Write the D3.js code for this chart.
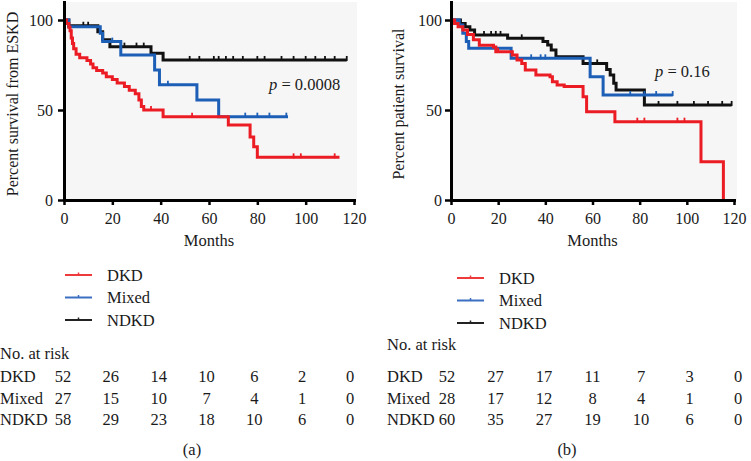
<!DOCTYPE html>
<html>
<head>
<meta charset="utf-8">
<script src="https://cdn.jsdelivr.net/npm/d3@7"></script>
<style>
body { margin: 0; background: #fff; }
text { font-family: "Liberation Serif", "DejaVu Serif", serif; fill: #1a1a1a; }
</style>
</head>
<body>
<div id="chart"></div>
<script>
var monthTicks = [0, 20, 40, 60, 80, 100, 120];
var percentTicks = [0, 50, 100];
var groupNames = ["DKD", "Mixed", "NDKD"];

// (a) percent survival from ESKD, [month, percent] at each step
var eskdDkd = [[0, 100], [1, 98], [2, 96], [2.5, 94], [3, 90], [3.5, 87], [4, 84], [5, 81],
    [6.5, 79], [9.5, 77.5], [11, 75.5], [12, 73.5], [13.5, 72], [16, 70.5], [17.5, 68.5],
    [20, 67], [22, 65], [25, 63], [27, 61], [29.5, 59], [31, 55.5], [32, 52], [33, 50],
    [41, 46.3], [68, 41.7], [77, 35], [78.5, 29.6], [80, 23.7], [114, 23.7]];
var eskdMixed = [[0, 100], [2, 96.3], [15, 92.6], [16, 88], [23.5, 80.5], [37.5, 72.2],
    [39.5, 64], [55, 55.6], [64, 46.3], [92.7, 46.3]];
var eskdNdkd = [[0, 100], [2, 96.8], [14, 93.5], [16, 89], [19, 85.2], [36, 81.5],
    [41, 77.8], [117, 77.8]];
var eskdCensorDkd = [36, 53, 95, 98, 112];
var eskdCensorMixed = [20, 43, 75, 80, 85, 92];
var eskdCensorNdkd = [8, 10, 25, 30, 33, 52, 56, 62, 64, 67, 70, 74, 80, 83, 90, 95, 100, 104, 108, 112, 117];
var eskdRiskDkd = [52, 26, 14, 10, 6, 2, 0];
var eskdRiskMixed = [27, 15, 10, 7, 4, 1, 0];
var eskdRiskNdkd = [58, 29, 23, 18, 10, 6, 0];

// (b) percent patient survival
var patientDkd = [[0, 100], [1.5, 98], [3, 96.3], [5, 94.4], [7, 92], [9.5, 89], [12, 86],
    [18, 85], [19, 82.4], [26, 80.5], [28, 77.8], [30, 75.9], [31.5, 72.2], [36, 69.4],
    [42, 68.5], [43, 65.7], [45, 63.9], [48, 63], [56, 57.4], [57.5, 49], [69.5, 43.5],
    [106, 21.3], [115.5, 0]];
var patientMixed = [[0, 100], [3.5, 97.2], [5, 92.6], [6.5, 88], [7.5, 84.3], [25.5, 78.7],
    [59, 68.5], [64.5, 58.3], [94, 58.3]];
var patientNdkd = [[0, 100], [4, 98], [6, 96.3], [8, 94.4], [10, 91.7], [24, 89.8], [39, 88],
    [41, 86.1], [42.5, 83.3], [44.5, 79.6], [56, 75.9], [66, 72.5], [67.5, 69.4], [69, 64.8],
    [70, 61.1], [82, 52.8], [119, 52.8]];
var patientCensorDkd = [20, 79, 82, 96, 99];
var patientCensorMixed = [34, 38, 40, 76, 82, 87, 94];
var patientCensorNdkd = [14, 17, 19, 21, 30, 62, 88, 96, 103, 109, 115, 119];
var patientRiskDkd = [52, 27, 17, 11, 7, 3, 0];
var patientRiskMixed = [28, 17, 12, 8, 4, 1, 0];
var patientRiskNdkd = [60, 35, 27, 19, 10, 6, 0];

var groupColors = ["#ec1c24", "#1d5fb6", "#111111"];
var legendColors = ["#ee3a3a", "#3b6fc2", "#222222"];

function valueAt(steps, t) {
    var v = steps[0][1];
    steps.forEach(function (s) {
        if (s[0] <= t) { v = s[1]; }
    });
    return v;
}

class SurvivalPanel {
    constructor(svg, frame, series, risk, texts) {
        this.svg = svg;
        this.frame = frame;
        this.series = series;
        this.risk = risk;
        this.texts = texts;
        this.x = d3.scaleLinear().domain([0, 120]).range([frame.left, frame.right]);
        this.y = d3.scaleLinear().domain([0, 110]).range([200, 2]);
    }

    addBackground() {
        this.svg.append("rect")
            .attr("x", this.x(0))
            .attr("y", this.y(110))
            .attr("width", this.x(120) - this.x(0) + 3)
            .attr("height", this.y(0) - this.y(110))
            .attr("fill", "#f6f6f6");
    }

    addAxes() {
        var xAxis = d3.axisBottom(this.x).tickValues(monthTicks)
            .tickSize(5).tickSizeOuter(0).tickPadding(8);
        var yAxis = d3.axisLeft(this.y).tickValues(percentTicks)
            .tickSize(6).tickSizeOuter(0).tickPadding(this.frame.yPad);

        var gx = this.svg.append("g")
            .attr("transform", "translate(0," + this.y(0) + ")")
            .call(xAxis);
        var gy = this.svg.append("g")
            .attr("transform", "translate(" + this.x(0) + ",0)")
            .call(yAxis);

        [gx, gy].forEach(function (g) {
            g.select(".domain").attr("stroke", "#000").attr("stroke-width", 3)
                .attr("stroke-linecap", "square");
            g.selectAll(".tick line").attr("stroke", "#000").attr("stroke-width", 2.5);
            g.selectAll(".tick text").attr("font-size", 16).attr("fill", "#1a1a1a")
                .style("font-family", "'Liberation Serif', serif");
        });

        this.svg.append("text")
            .attr("transform", "translate(" + this.frame.titleX + ",104) rotate(-90)")
            .attr("text-anchor", "middle")
            .attr("font-size", 16)
            .text(this.texts.yTitle);

        this.svg.append("text")
            .attr("x", this.x(60))
            .attr("y", 246)
            .attr("text-anchor", "middle")
            .attr("font-size", 16.5)
            .text("Months");
    }

    addCurves() {
        var x = this.x, y = this.y;
        var line = d3.line()
            .x(function (d) { return x(d[0]); })
            .y(function (d) { return y(d[1]); })
            .curve(d3.curveStepAfter);

        // black drawn first so red and blue stay on top, as in the figure
        var order = [2, 1, 0];
        var svg = this.svg;
        var series = this.series;

        order.forEach(function (i) {
            var s = series[i];
            svg.append("path")
                .datum(s.steps)
                .attr("fill", "none")
                .attr("stroke", groupColors[i])
                .attr("stroke-width", 3)
                .attr("d", line);

            svg.append("g").selectAll("line")
                .data(s.censor)
                .enter().append("line")
                .attr("x1", function (t) { return x(t); })
                .attr("x2", function (t) { return x(t); })
                .attr("y1", function (t) { return y(valueAt(s.steps, t)) - 4; })
                .attr("y2", function (t) { return y(valueAt(s.steps, t)) + 1; })
                .attr("stroke", groupColors[i])
                .attr("stroke-width", 1.8);
        });
    }

    addPValue() {
        var t = this.svg.append("text")
            .attr("x", this.texts.pX)
            .attr("y", this.texts.pY)
            .attr("font-size", 16.5);
        t.append("tspan").attr("font-style", "italic").text("p");
        t.append("tspan").text(" = " + this.texts.pValue);
    }

    addLegend() {
        var lg = this.frame.legend;
        var g = this.svg.append("g");
        groupNames.forEach(function (name, i) {
            var yy = lg.y + i * 22.5;
            g.append("line")
                .attr("x1", lg.x).attr("x2", lg.x + 27)
                .attr("y1", yy).attr("y2", yy)
                .attr("stroke", legendColors[i]).attr("stroke-width", 2);
            g.append("line")
                .attr("x1", lg.x + 13.5).attr("x2", lg.x + 13.5)
                .attr("y1", yy - 2.5).attr("y2", yy)
                .attr("stroke", legendColors[i]).attr("stroke-width", 1.5);
            g.append("text")
                .attr("x", lg.x + 42)
                .attr("y", yy + 5.5)
                .attr("font-size", 16.5)
                .text(name);
        });
    }

    addRiskTable() {
        var tb = this.frame.table;
        var col = d3.scaleLinear().domain([0, 120]).range([tb.first, tb.last]);
        var g = this.svg.append("g").attr("font-size", 16.5);
        var rows = this.risk;

        g.append("text").attr("x", tb.x).attr("y", tb.headY).text("No. at risk");

        groupNames.forEach(function (name, i) {
            var yy = tb.rowY + i * 21.5;
            g.append("text").attr("x", tb.x).attr("y", yy).text(name);
            g.selectAll(null)
                .data(rows[i])
                .enter().append("text")
                .attr("x", function (d, j) { return col(monthTicks[j]); })
                .attr("y", yy)
                .attr("text-anchor", "middle")
                .text(function (d) { return d; });
        });

        g.append("text")
            .attr("x", tb.captionX)
            .attr("y", 455)
            .attr("text-anchor", "middle")
            .text(this.texts.caption);
    }

    draw() {
        this.addBackground();
        this.addCurves();
        this.addAxes();
        this.addPValue();
        this.addLegend();
        this.addRiskTable();
    }
}

var svg = d3.select("#chart").append("svg")
    .attr("width", 751)
    .attr("height", 461);

new SurvivalPanel(svg,
    { left: 64, right: 354, yPad: 5, titleX: 18,
      legend: { x: 65, y: 275 },
      table: { x: 0, headY: 359, rowY: 382, first: 63, last: 350, captionX: 192 } },
    [{ steps: eskdDkd, censor: eskdCensorDkd },
     { steps: eskdMixed, censor: eskdCensorMixed },
     { steps: eskdNdkd, censor: eskdCensorNdkd }],
    [eskdRiskDkd, eskdRiskMixed, eskdRiskNdkd],
    { yTitle: "Percent survival from ESKD", pValue: "0.0008", pX: 269, pY: 90, caption: "(a)" }
).draw();

new SurvivalPanel(svg,
    { left: 451, right: 734, yPad: 3, titleX: 404,
      legend: { x: 457, y: 278 },
      table: { x: 387, headY: 350, rowY: 382, first: 447, last: 738, captionX: 567 } },
    [{ steps: patientDkd, censor: patientCensorDkd },
     { steps: patientMixed, censor: patientCensorMixed },
     { steps: patientNdkd, censor: patientCensorNdkd }],
    [patientRiskDkd, patientRiskMixed, patientRiskNdkd],
    { yTitle: "Percent patient survival", pValue: "0.16", pX: 655, pY: 77, caption: "(b)" }
).draw();
</script>
</body>
</html>
